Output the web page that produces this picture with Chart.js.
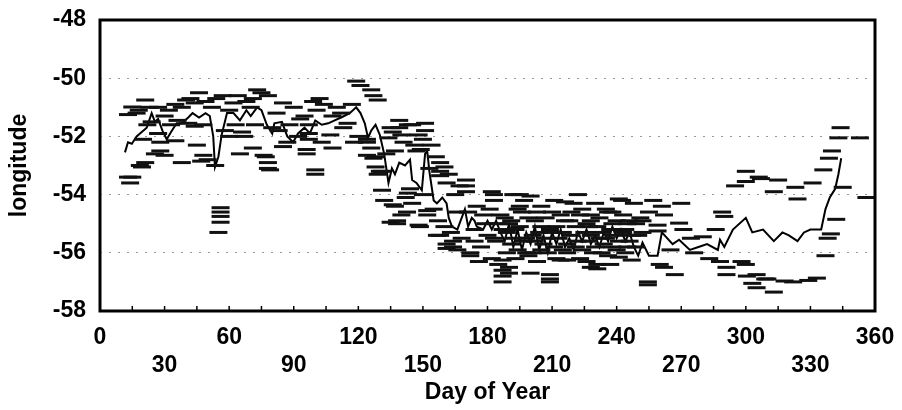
<!DOCTYPE html>
<html>
<head>
<meta charset="utf-8">
<script src="https://cdn.jsdelivr.net/npm/chart.js@4.4.0/dist/chart.umd.min.js"></script>
<style>
  html, body { margin: 0; padding: 0; background: #fff; }
</style>
</head>
<body>
<canvas id="chart" width="902" height="410"></canvas>
<script>
// daily mean track (solid line)
const lineDays = [11.6, 13, 14.8, 17, 19.4, 21.7, 24, 25.5, 27, 29, 31, 33, 35.6, 38, 41, 43, 46, 49, 51, 52.6,
  53.4, 55, 56.5, 59, 62, 65, 68, 70, 73, 75, 77.5, 80, 81, 84.5, 87, 89.7, 92, 95, 97.5, 100,
  103, 106, 109, 112, 116, 119, 121, 123, 124.5, 126, 128, 130, 132, 134, 135.6, 137, 139, 141.7, 144, 145,
  147, 149.5, 151, 152, 153, 155, 156.5, 159, 161, 162, 163.5, 166, 167, 169.5, 171, 172.7, 174, 175, 178, 180,
  182, 184, 186, 188, 190, 192, 194, 196, 198, 200, 202, 204, 206, 208, 210, 212, 214, 216, 218, 220,
  222, 224, 226, 228, 230, 232, 234, 236, 238, 240, 242, 244, 246, 248, 250, 252, 255, 259, 261, 266,
  269, 274, 278, 282, 287, 288, 290, 294, 300, 303, 308, 313, 317, 320, 324, 327, 330, 334, 335, 337,
  339, 341.5, 343, 344.3];
const lineLon = [-52.55, -52.2, -52.25, -52.0, -51.85, -51.7, -51.2, -51.5, -51.4, -51.8, -52.1, -51.85, -51.55, -51.55, -51.35, -51.2, -51.35, -51.2, -51.3, -52.0,
  -53.05, -52.7, -51.95, -51.2, -51.2, -51.45, -51.1, -51.3, -51.0, -51.1, -51.6, -51.9, -51.55, -51.5, -52.0, -52.2, -51.9, -51.7, -51.9, -51.45,
  -51.6, -51.55, -51.45, -51.35, -51.2, -51.0, -51.2, -51.55, -52.05, -51.8, -51.6, -51.95, -52.6, -53.6, -53.1, -53.3, -52.9, -53.0, -52.8, -53.5,
  -53.6, -53.85, -52.6, -52.5, -53.2, -54.2, -54.3, -54.1, -54.3, -54.8, -55.1, -55.2, -55.0, -54.5, -55.1, -54.8, -54.9, -55.1, -55.2, -54.9,
  -55.2, -54.9, -55.3, -55.6, -55.0, -55.8, -55.2, -55.9, -55.3, -55.7, -55.1, -55.9, -55.4, -56.0, -55.3, -55.7, -55.2, -55.8, -55.5, -55.9,
  -55.3, -55.6, -55.2, -55.7, -55.4, -55.8, -55.3, -55.6, -55.1, -55.5, -55.2, -55.6, -55.3, -55.8, -56.1, -55.65, -56.1, -56.1, -55.3, -55.7,
  -55.55, -55.9, -55.8, -55.7, -55.9, -55.55, -55.8, -55.2, -54.8, -55.3, -55.2, -55.6, -55.3, -55.4, -55.6, -55.3, -55.2, -55.2, -55.2, -54.5,
  -54.1, -53.8, -53.3, -52.75];

// individual observations (dash markers)
const obsDays = [15, 21, 17, 13, 27, 32, 35, 40, 46, 44, 52, 57, 62, 41, 44, 36, 27, 22, 25.5, 28,
  21, 19.5, 48, 50, 47, 53.5, 15, 13, 14, 18.5, 30, 56, 56, 56, 56, 55, 20, 35, 58, 60,
  66, 67, 68, 70, 73, 75, 78, 85, 90, 93, 77, 78, 79, 76, 78, 87, 85, 80, 88, 97,
  97, 97, 99, 100.6, 107, 103, 96, 96, 100, 100, 112, 119, 121, 126, 127, 129, 120, 124, 126, 127,
  128, 131, 131, 124, 124, 128, 129, 115, 108, 104,
  139, 139, 151, 151, 143, 136, 140, 148, 134, 146, 149, 147, 133, 158, 160, 158, 158, 161, 170, 170,
  170, 143, 144, 132, 142, 136, 137, 142.6, 135, 148, 155, 152, 152, 138, 138, 148.6, 158, 156.5, 164, 164,
  161, 161, 172, 172, 166, 182, 183, 183, 130,
  187, 190, 190, 187, 187, 187, 192, 200, 195, 195, 200, 209, 209, 209, 214, 217, 216, 222, 228, 228,
  231, 231, 241, 245, 242.5, 236, 241, 247, 237, 248,
  188, 190, 193, 196, 198, 191, 194, 199, 202, 204, 206, 208, 203, 210, 212, 213, 215, 218, 219, 221,
  223, 224, 226, 227, 229, 232, 233, 234, 236, 238, 239, 240, 243, 244, 246, 249, 251, 250, 205, 211,
  220, 230, 197, 185, 180, 177, 175, 178, 182, 185, 176,
  261, 262, 269, 271, 289, 290, 259, 259, 286, 274.5, 280, 288, 291, 298, 300, 300.5, 291, 260, 262, 267,
  254.5, 254.5, 303, 310, 313, 305, 309, 305, 318, 322, 329, 333, 337, 338, 339.5, 342, 345, 356, 300, 306,
  300, 315, 295, 323, 331, 313, 324, 307, 336, 338.6, 340, 343, 353, 344, 255, 265, 276, 283, 252, 257,
  270,
  171, 174, 179, 181, 184, 186, 189, 189, 192, 193, 195, 197, 199, 201, 201, 203, 205, 205, 207, 207,
  209, 211, 212, 214, 215, 217, 217, 219, 221, 222, 224, 225, 226, 228, 228, 230, 231, 233, 235, 235,
  237, 238, 240, 241, 243, 244, 246, 247, 249, 252, 183, 187, 191, 194, 198, 202, 210, 216, 223, 227,
  232, 238, 245,
  18, 23, 30, 38, 42, 49, 54, 60, 64, 71, 82, 95, 102, 110, 117, 24, 33, 48, 63, 72,
  83, 92, 113, 118, 28, 45, 71, 108, 65, 38,
  135, 141, 145, 150, 137, 154, 153, 156, 162, 165, 167, 145, 150, 140, 157, 160, 163, 168, 166, 174];
const obsLon = [-50.99, -50.75, -51.2, -51.25, -51.0, -51.1, -50.9, -50.75, -50.5, -50.85, -51.0, -50.6, -50.85, -51.55, -51.65, -51.45, -51.9, -51.6, -52.6, -52.5,
  -52.9, -53.05, -52.65, -52.8, -52.85, -53.0, -53.4, -53.4, -53.6, -53.0, -52.65, -54.45, -54.6, -54.75, -54.95, -55.3, -52.1, -52.15, -51.8, -52.0,
  -51.85, -52.0, -50.8, -51.0, -50.4, -50.5, -50.6, -50.85, -51.0, -51.4, -52.7, -52.9, -53.15, -52.65, -53.1, -52.2, -52.35, -51.7, -51.6, -51.6,
  -51.9, -52.1, -50.8, -51.1, -51.95, -52.2, -52.45, -52.6, -53.15, -53.3, -51.2, -50.1, -50.25, -50.4, -50.6, -50.75, -52.0, -52.2, -52.4, -52.75,
  -53.05, -53.2, -53.85, -52.1, -52.65, -52.7, -53.3, -51.55, -51.3, -50.9,
  -51.45, -51.7, -51.55, -51.8, -51.6, -51.85, -51.95, -51.95, -52.05, -52.3, -52.45, -52.5, -52.6, -52.9, -53.05, -53.2, -53.35, -53.6, -53.5, -53.7,
  -53.9, -53.95, -53.8, -54.2, -54.1, -54.35, -54.4, -54.6, -54.95, -55.05, -54.5, -54.55, -54.7, -54.9, -55.0, -55.1, -55.4, -55.4, -55.6, -55.8,
  -55.7, -55.85, -56.0, -56.1, -54.6, -53.9, -54.0, -54.2, -53.2,
  -56.25, -56.5, -56.7, -56.6, -56.8, -57.0, -54.0, -54.05, -54.0, -54.4, -56.7, -56.75, -57.0, -56.9, -56.25, -56.25, -54.25, -54.0, -54.7, -56.5,
  -56.4, -56.55, -56.15, -55.8, -54.2, -54.6, -54.15, -56.25, -56.4, -54.3,
  -54.8, -55.0, -55.2, -54.6, -55.5, -55.7, -55.9, -56.1, -54.9, -55.3, -55.7, -56.0, -56.3, -54.6, -55.1, -55.5, -55.9, -54.9, -55.4, -55.8,
  -56.2, -54.5, -55.0, -55.6, -56.0, -54.8, -55.3, -55.7, -56.1, -55.0, -55.4, -55.9, -54.7, -55.2, -55.6, -55.0, -54.8, -55.4, -54.4, -54.2,
  -54.3, -54.3, -54.2, -55.0, -55.4, -55.8, -54.4, -54.7, -56.2, -56.4, -56.3,
  -54.4, -54.7, -54.98, -55.2, -54.6, -54.75, -55.05, -55.25, -55.2, -55.5, -55.45, -56.3, -56.5, -56.3, -56.4, -56.8, -56.75, -56.4, -56.5, -56.75,
  -57.0, -57.1, -57.05, -56.9, -57.35, -56.75, -56.9, -57.2, -56.97, -57.0, -56.95, -56.87, -56.1, -55.5, -55.35, -54.85, -53.75, -54.1, -53.2, -53.4,
  -53.55, -53.5, -53.7, -53.75, -53.6, -53.9, -54.15, -53.45, -53.15, -52.75, -52.5, -52.05, -52.05, -51.7, -54.6, -55.9, -56.0, -56.2, -54.9, -54.2,
  -54.3,
  -54.6, -55.2, -55.0, -54.5, -55.6, -54.7, -55.3, -56.0, -55.5, -56.2, -55.1, -55.6, -54.8, -55.4, -56.0, -54.6, -55.1, -55.9, -54.8, -55.5,
  -55.2, -55.8, -56.2, -54.7, -55.3, -55.7, -56.0, -54.6, -55.1, -55.6, -55.9, -55.3, -56.3, -54.9, -55.4, -55.8, -55.1, -56.0, -54.5, -55.5,
  -55.2, -55.8, -54.9, -55.6, -55.3, -56.0, -54.9, -55.4, -55.8, -55.3, -55.5, -55.2, -54.9, -54.5, -56.0, -55.6, -55.3, -54.9, -54.7, -55.1,
  -55.5, -54.6, -55.0,
  -51.1, -51.0, -51.3, -51.0, -50.7, -50.8, -50.7, -51.1, -50.6, -50.7, -51.2, -51.3, -50.7, -51.0, -50.9, -51.5, -51.6, -51.6, -51.6, -51.6,
  -51.8, -52.0, -51.7, -52.2, -52.2, -52.3, -52.4, -52.4, -52.6, -52.9,
  -51.7, -52.2, -51.6, -52.1, -52.5, -52.3, -53.1, -52.7, -53.3, -54.0, -53.7, -54.3, -54.0, -54.7, -54.9, -55.1, -55.3, -55.5, -55.9, -55.6];

// axis ticks
const xTicks = [0, 30, 60, 90, 120, 150, 180, 210, 240, 270, 300, 330, 360];
const yTicks = [-58, -56, -54, -52, -50, -48];

const FONT = "'Liberation Sans', Arial, Helvetica, sans-serif";

const frame = {
  id: 'frame',
  afterDraw(chart) {
    const { ctx, chartArea: a, scales: { x } } = chart;
    ctx.save();
    ctx.strokeStyle = '#000';
    ctx.lineWidth = 3;
    ctx.strokeRect(a.left, a.top, a.right - a.left, a.bottom - a.top);
    // inward minor ticks on the day axis
    ctx.lineWidth = 1.5;
    for (let d = 15; d < 360; d += 15) {
      const px = x.getPixelForValue(d);
      ctx.beginPath();
      ctx.moveTo(px, a.bottom);
      ctx.lineTo(px, a.bottom - 5);
      ctx.stroke();
    }
    ctx.restore();
  }
};

new Chart(document.getElementById('chart'), {
  type: 'scatter',
  data: {
    datasets: [
      {
        label: 'observations',
        data: obsDays.map((d, i) => ({ x: d, y: obsLon[i] })),
        pointStyle: 'line',
        pointRadius: 9,
        pointHoverRadius: 9,
        borderColor: '#111',
        borderWidth: 3
      },
      {
        label: 'track',
        data: lineDays.map((d, i) => ({ x: d, y: lineLon[i] })),
        showLine: true,
        borderColor: '#000',
        borderWidth: 2,
        pointRadius: 0,
        tension: 0
      }
    ]
  },
  options: {
    responsive: false,
    animation: false,
    layout: { padding: { top: 20, right: 27, left: 0, bottom: 0 } },
    plugins: { legend: { display: false }, tooltip: { enabled: false } },
    scales: {
      x: {
        type: 'linear',
        min: 0,
        max: 360,
        afterBuildTicks: s => { s.ticks = xTicks.map(v => ({ value: v })); },
        afterFit: s => { s.height = 99; s.paddingLeft = 0; s.paddingRight = 0; },
        grid: { display: false, drawTicks: false },
        border: { display: false },
        ticks: {
          color: '#000',
          padding: 13,
          maxRotation: 0,
          autoSkip: false,
          font: { family: FONT, size: 23, weight: 'bold', lineHeight: 1.2 },
          callback: (v) => (v / 30) % 2 ? ['', String(v)] : String(v)
        },
        title: {
          display: true,
          text: 'Day of Year',
          color: '#000',
          padding: { top: 0, bottom: 4 },
          font: { family: FONT, size: 23, weight: 'bold' }
        }
      },
      y: {
        min: -58,
        max: -48,
        afterBuildTicks: s => { s.ticks = yTicks.map(v => ({ value: v })); },
        afterFit: s => { s.width = 100; s.paddingTop = 0; s.paddingBottom = 0; },
        grid: {
          drawTicks: false,
          lineWidth: 1,
          color: c => (c.tick && c.tick.value > -58 && c.tick.value < -48) ? '#9a9a9a' : 'rgba(0,0,0,0)'
        },
        border: { display: false, dash: [2, 7] },
        ticks: {
          color: '#000',
          padding: 14,
          font: { family: FONT, size: 23, weight: 'bold' }
        },
        title: {
          display: true,
          text: 'longitude',
          color: '#000',
          padding: { top: 6, bottom: 0 },
          font: { family: FONT, size: 23, weight: 'bold' }
        }
      }
    }
  },
  plugins: [frame]
});
</script>
</body>
</html>
